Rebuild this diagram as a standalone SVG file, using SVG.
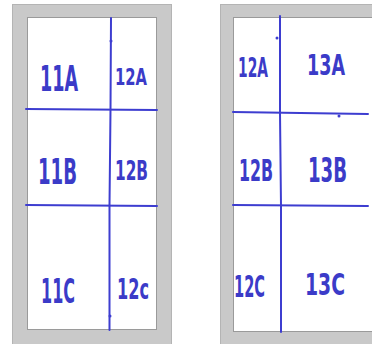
<svg xmlns="http://www.w3.org/2000/svg" width="372" height="344" viewBox="0 0 372 344">
<style>
.frame{fill:#c9c9c9;stroke:#b4b4b4;stroke-width:1}
.sheet{fill:#ffffff;stroke:#9a9a9a;stroke-width:1}
.rule{stroke:#3d3dd0;stroke-width:2;stroke-linecap:round;fill:none}
.dot{fill:#3d3dd0}
.lab{font-family:"DejaVu Sans Condensed","DejaVu Sans",sans-serif;fill:#3b3bc8;font-weight:bold}
</style>
<rect width="372" height="344" fill="#ffffff"/>
<g id="panel-left">
<rect class="frame" x="12.5" y="4.5" width="159" height="345"/>
<rect class="sheet" x="27.5" y="17.5" width="129" height="312"/>
</g>
<g id="panel-right">
<rect class="frame" x="220.5" y="4.5" width="155" height="345"/>
<rect class="sheet" x="233.5" y="17.5" width="140" height="314"/>
</g>
<g id="connectors">
<path class="rule" d="M111 18 L110.5 110 L109.5 205 L109.5 330"/>
<path class="rule" d="M26 109 L157 110"/>
<path class="rule" d="M26 205 L157 206"/>
<circle class="dot" cx="111" cy="41" r="1.5"/>
<circle class="dot" cx="110" cy="316" r="1.5"/>
<path class="rule" d="M280 16 L280 113 L281 206 L281 332"/>
<path class="rule" d="M233 112 L368 114"/>
<path class="rule" d="M233 205 L368 206"/>
<circle class="dot" cx="277" cy="38" r="1.5"/>
<circle class="dot" cx="339" cy="116" r="1.5"/>
</g>
<g id="cell-11A"><text class="lab" font-size="36" x="40" y="91" textLength="38" lengthAdjust="spacingAndGlyphs">11A</text></g>
<g id="cell-12A-left"><text class="lab" font-size="23" x="115" y="85" textLength="32" lengthAdjust="spacingAndGlyphs">12A</text></g>
<g id="cell-11B"><text class="lab" font-size="35" x="38" y="184" textLength="39" lengthAdjust="spacingAndGlyphs">11B</text></g>
<g id="cell-12B-left"><text class="lab" font-size="27" x="115" y="180" textLength="33" lengthAdjust="spacingAndGlyphs">12B</text></g>
<g id="cell-11C"><text class="lab" font-size="33" x="41" y="303" textLength="34" lengthAdjust="spacingAndGlyphs">11C</text></g>
<g id="cell-12C-left"><text class="lab" font-size="28" x="117" y="299" textLength="32" lengthAdjust="spacingAndGlyphs">12c</text></g>
<g id="cell-12A-right"><text class="lab" font-size="26" x="238" y="77" textLength="30" lengthAdjust="spacingAndGlyphs">12A</text></g>
<g id="cell-13A"><text class="lab" font-size="28" x="307" y="75" textLength="38" lengthAdjust="spacingAndGlyphs">13A</text></g>
<g id="cell-12B-right"><text class="lab" font-size="30" x="239" y="181" textLength="34" lengthAdjust="spacingAndGlyphs">12B</text></g>
<g id="cell-13B"><text class="lab" font-size="33" x="308" y="182" textLength="39" lengthAdjust="spacingAndGlyphs">13B</text></g>
<g id="cell-12C-right"><text class="lab" font-size="30" x="234" y="297" textLength="31" lengthAdjust="spacingAndGlyphs">12C</text></g>
<g id="cell-13C"><text class="lab" font-size="31" x="305" y="295" textLength="40" lengthAdjust="spacingAndGlyphs">13C</text></g>
</svg>
